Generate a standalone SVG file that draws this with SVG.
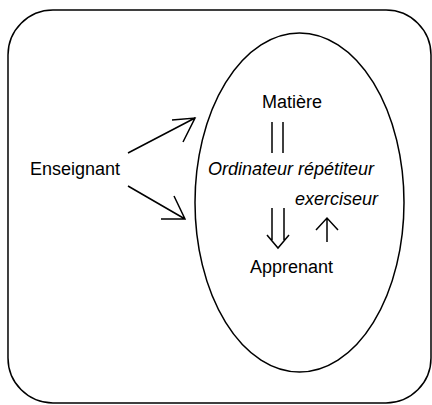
<svg xmlns="http://www.w3.org/2000/svg" width="432" height="405" viewBox="0 0 432 405">
<style>
.s{fill:none;stroke:#000;stroke-width:1.5;stroke-linecap:butt;stroke-linejoin:miter}
.t{font-family:"Liberation Sans",Arial,sans-serif;font-size:18px;fill:#000}
.i{font-style:italic}
</style>
<rect width="432" height="405" fill="#fff"/>
<g id="frame"><rect class="s" x="8" y="10" width="423" height="393" rx="45" ry="45"/></g>
<g id="ellipse"><ellipse class="s" cx="299.5" cy="202.5" rx="104.5" ry="169.5"/></g>
<g id="enseignant"><text class="t" x="30" y="175">Enseignant</text></g>
<g id="matiere"><text class="t" x="292" y="108" text-anchor="middle">Matière</text></g>
<g id="ordinateur"><text class="t i" x="291" y="175" text-anchor="middle">Ordinateur répétiteur</text></g>
<g id="exerciseur"><text class="t i" x="336.5" y="205" text-anchor="middle">exerciseur</text></g>
<g id="apprenant"><text class="t" x="291.5" y="273" text-anchor="middle">Apprenant</text></g>
<g id="connectors">
<path class="s" d="M128,153 L195,118 M172,120 L195,118 L183,142"/>
<path class="s" d="M128,186 L185,219 M161,219 L185,219 L174,196"/>
<path class="s" d="M272,122 V153 M283,122 V153"/>
<path class="s" d="M272,208 V240 M284,208 V240 M267,235 L278,248 L289,235"/>
<path class="s" d="M327,242 V219 M316,230 L327,218 L338,230"/>
</g>
</svg>
